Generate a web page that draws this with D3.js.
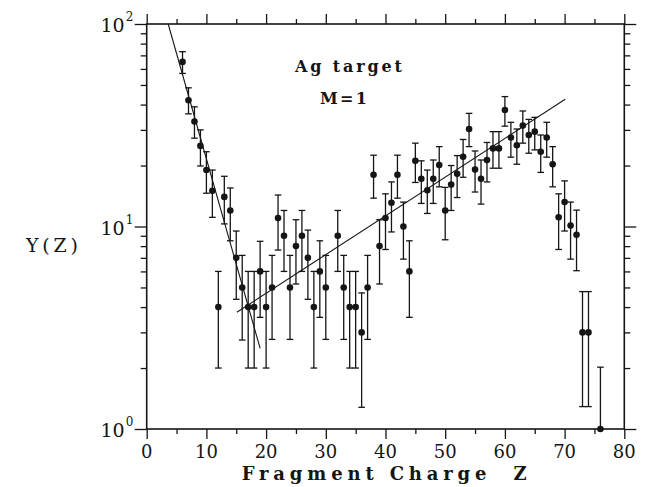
<!DOCTYPE html>
<html>
<head>
<meta charset="utf-8">
<script src="https://cdn.jsdelivr.net/npm/d3@7/dist/d3.min.js"></script>
<style>
  html, body { margin: 0; padding: 0; background: #fff; }
  svg { display: block; }
</style>
</head>
<body>
<svg id="chart" width="647" height="487"></svg>
<script>
// Fragment charge Z and measured yield Y(Z) with error-bar limits
const zValues = [6, 7, 8, 9, 10, 11, 12, 13, 14, 15, 16, 17, 18, 19, 20, 21, 22, 23, 24, 25,
  26, 27, 28, 29, 30, 32, 33, 34, 35, 36, 37, 38, 39, 40, 41, 42, 43, 44, 45, 46,
  47, 48, 49, 50, 51, 52, 53, 54, 55, 56, 57, 58, 59, 60, 61, 62, 63, 64, 65, 66,
  67, 68, 69, 70, 71, 72, 73, 74, 76];
const yieldValues = [65, 42, 33, 25, 19, 15, 4, 14, 12, 7, 5, 4, 4, 6, 4, 5, 11, 9, 5, 8,
  9, 7, 4, 6, 5, 9, 5, 4, 4, 3, 5, 18, 8, 11, 13.1, 18, 10, 6, 21.1, 17.2,
  15.1, 17.2, 20.1, 12, 16.1, 18.2, 22.1, 30.3, 19.1, 17.2, 21.3, 24.3, 24.3, 37.6, 27.5, 25.2, 31.5, 28.3, 29.4, 23.4,
  27.5, 20.3, 11.1, 13.2, 10.1, 9.1, 3, 3, 1];
const yieldHigh = [73, 48.4, 39, 30, 23.4, 19, 6, 17.7, 15.5, 9.5, 7.2, 6, 6, 8.45, 6, 7.2, 14.3, 12, 7.2, 10.8,
  12, 9.6, 6, 8.5, 7.2, 12, 7.2, 6, 6, 4.7, 7.2, 22.5, 10.8, 14.5, 16.6, 22.5, 13.2, 8.5, 25.8, 21.1,
  19, 21.3, 24.8, 15.6, 20, 22.4, 26.9, 36.2, 23.6, 21.3, 26, 29.4, 29.4, 43.8, 32.7, 30.3, 37.2, 33.8, 34.6, 28.3,
  32.7, 24.8, 14.5, 16.8, 13.2, 12.05, 4.77, 4.77, 2.02];
const yieldLow = [57, 36, 27.3, 19.9, 14.6, 11.1, 2, 10.3, 8.5, 4.37, 2.75, 2, 2, 3.56, 2, 2.77, 7.65, 6, 2.77, 5.2,
  6, 4.37, 2, 3.56, 2.77, 6, 2.77, 2, 2, 1.28, 2.77, 13.8, 5.2, 7.7, 9.4, 13.8, 6.9, 3.56, 16.5, 13,
  11.6, 13, 15.7, 8.6, 12, 13.9, 17.5, 24.8, 14.8, 12.9, 16.6, 19.4, 19.4, 31.3, 22, 20.3, 25.8, 23, 23.9, 18.5,
  22, 15.7, 7.7, 9.5, 6.9, 6.05, 1.29, 1.29, 1];

// Exponential fits drawn as straight lines on the log scale: [z, Y] end points
const fitLightFragments = [[3.6, 100], [19.0, 2.5]];
const fitHeavyFragments = [[15.1, 3.77], [70.1, 42.5]];

// Axis ticks and labels
const xMajorTicks = [0, 10, 20, 30, 40, 50, 60, 70, 80];
const xMinorTicks = [5, 15, 25, 35, 45, 55, 65, 75];
const yMajorTicks = [1, 10, 100];
const yMajorExponents = ["0", "1", "2"];
const yMinorTicks = [2, 3, 4, 5, 6, 7, 8, 9, 20, 30, 40, 50, 60, 70, 80, 90];

const xTitle = "Fragment Charge  Z";
const yTitle = "Y(Z)";
const noteLines = ["Ag target", "M=1"];

const ink = "#151515";
const serif = "'DejaVu Serif', 'Liberation Serif', serif";

const svg = d3.select("#chart");
const plotLeft = 146.7, plotRight = 624.3, plotTop = 24, plotBottom = 429;

const x = d3.scaleLinear().domain([0, 80]).range([plotLeft, plotRight]);
const y = d3.scaleLog().domain([1, 100]).range([plotBottom, plotTop]);

const rows = zValues.map((z, i) => ({ z, v: yieldValues[i], hi: yieldHigh[i], lo: yieldLow[i] }));

// Frame axes: ticks pointing outward on all four sides
function drawAxis(gen, transform, ticks, size) {
  const g = svg.append("g")
    .attr("transform", transform)
    .call(gen.tickValues(ticks).tickSize(size).tickFormat(""));
  g.select(".domain").remove();
  g.selectAll(".tick line").attr("stroke", ink).attr("stroke-width", 1.3);
}
drawAxis(d3.axisBottom(x), `translate(0,${plotBottom})`, xMajorTicks, 10);
drawAxis(d3.axisBottom(x), `translate(0,${plotBottom})`, xMinorTicks, 5);
drawAxis(d3.axisTop(x), `translate(0,${plotTop})`, xMajorTicks, 10);
drawAxis(d3.axisTop(x), `translate(0,${plotTop})`, xMinorTicks, 5);
drawAxis(d3.axisLeft(y), `translate(${plotLeft},0)`, yMajorTicks, 12);
drawAxis(d3.axisLeft(y), `translate(${plotLeft},0)`, yMinorTicks, 6);
drawAxis(d3.axisRight(y), `translate(${plotRight},0)`, yMajorTicks, 12);
drawAxis(d3.axisRight(y), `translate(${plotRight},0)`, yMinorTicks, 6);

svg.append("rect")
  .attr("x", plotLeft).attr("y", plotTop)
  .attr("width", plotRight - plotLeft).attr("height", plotBottom - plotTop)
  .attr("fill", "none").attr("stroke", ink).attr("stroke-width", 1.6);

// Tick labels
svg.append("g").selectAll("text").data(xMajorTicks).join("text")
  .attr("x", d => x(d)).attr("y", plotBottom + 29)
  .attr("text-anchor", "middle")
  .attr("font-family", serif).attr("font-size", 18).attr("fill", ink)
  .text(d => d);

const yl = svg.append("g").selectAll("g").data(yMajorTicks).join("g");
yl.append("text")
  .attr("x", plotLeft - 22).attr("y", d => y(d) + 8)
  .attr("text-anchor", "end")
  .attr("font-family", serif).attr("font-size", 19).attr("fill", ink)
  .text("10");
yl.append("text")
  .attr("x", plotLeft - 21).attr("y", d => y(d) - 3)
  .attr("font-family", serif).attr("font-size", 12).attr("fill", ink)
  .text((d, i) => yMajorExponents[i]);

// Axis titles
svg.append("text")
  .attr("x", 241.7).attr("y", 480)
  .attr("textLength", 285).attr("lengthAdjust", "spacing")
  .attr("font-family", serif).attr("font-size", 18).attr("font-weight", "bold").attr("fill", ink)
  .style("white-space", "pre")
  .text(xTitle);

svg.append("text")
  .attr("x", 26).attr("y", 252)
  .attr("textLength", 52).attr("lengthAdjust", "spacing")
  .attr("font-family", serif).attr("font-size", 19).attr("fill", ink)
  .text(yTitle);

// Annotation
svg.append("text")
  .attr("x", 295).attr("y", 72)
  .attr("textLength", 107).attr("lengthAdjust", "spacing")
  .attr("font-family", serif).attr("font-size", 16).attr("font-weight", "bold").attr("fill", ink)
  .text(noteLines[0]);
svg.append("text")
  .attr("x", 320).attr("y", 104)
  .attr("textLength", 47).attr("lengthAdjust", "spacing")
  .attr("font-family", serif).attr("font-size", 16).attr("font-weight", "bold").attr("fill", ink)
  .text(noteLines[1]);

// Fit lines
const line = d3.line().x(d => x(d[0])).y(d => y(d[1]));
[fitLightFragments, fitHeavyFragments].forEach(pts => {
  svg.append("path").attr("d", line(pts))
    .attr("fill", "none").attr("stroke", ink).attr("stroke-width", 1.1);
});

// Error bars with caps
const capHalf = 3.3;
const bars = svg.append("g").attr("stroke", ink).attr("stroke-width", 1.3);
bars.selectAll("line.v").data(rows).join("line").attr("class", "v")
  .attr("x1", d => x(d.z)).attr("x2", d => x(d.z))
  .attr("y1", d => y(d.hi)).attr("y2", d => y(d.lo));
bars.selectAll("line.h").data(rows).join("line").attr("class", "h")
  .attr("x1", d => x(d.z) - capHalf).attr("x2", d => x(d.z) + capHalf)
  .attr("y1", d => y(d.hi)).attr("y2", d => y(d.hi));
bars.selectAll("line.l").data(rows).join("line").attr("class", "l")
  .attr("x1", d => x(d.z) - capHalf).attr("x2", d => x(d.z) + capHalf)
  .attr("y1", d => y(d.lo)).attr("y2", d => y(d.lo));

// Data points
svg.append("g").selectAll("circle").data(rows).join("circle")
  .attr("cx", d => x(d.z)).attr("cy", d => y(d.v))
  .attr("r", 3.3).attr("fill", ink);
</script>
</body>
</html>
